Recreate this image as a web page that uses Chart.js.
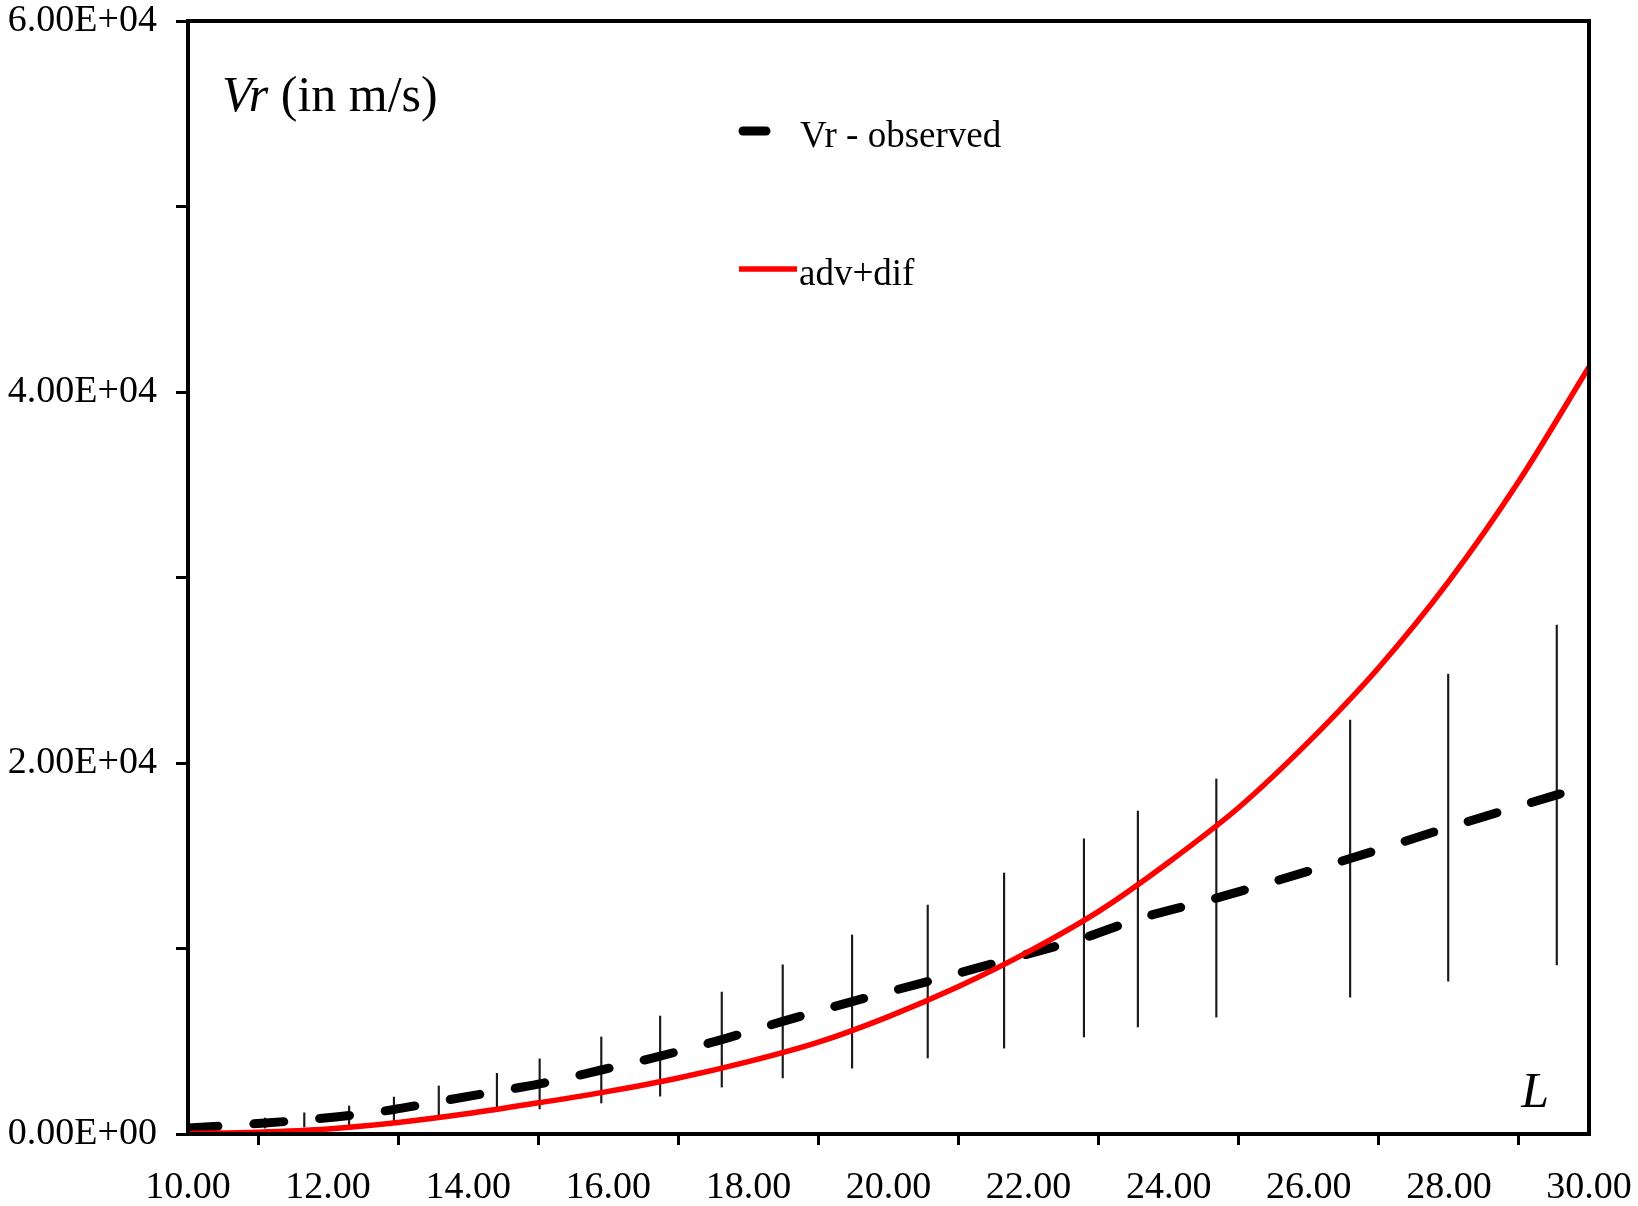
<!DOCTYPE html>
<html>
<head>
<meta charset="utf-8">
<title>Vr observed vs adv+dif</title>
<script src="https://cdn.jsdelivr.net/npm/chart.js@4.4.1/dist/chart.umd.min.js"></script>
<style>
  html, body { margin: 0; padding: 0; background: #fff; }
  #wrap { width: 1638px; height: 1206px; position: relative; }
</style>
</head>
<body>
<div id="wrap"><canvas id="chart"></canvas></div>
<script>
// observed points with their error bars
var obsL   = [11.10, 11.66, 12.30, 12.94, 13.58, 14.41, 15.02, 15.90, 16.74, 17.62, 18.49, 19.48, 20.56, 21.65, 22.79, 23.56, 24.68, 26.59, 27.99, 29.54];
var obsVr  = [590, 760, 1000, 1320, 1750, 2300, 2700, 3450, 4200, 5090, 6070, 7140, 8220, 9350, 10570, 11590, 12720, 14850, 16520, 18280];
var obsErr = [270, 380, 510, 670, 840, 970, 1350, 1780, 2160, 2560, 3050, 3590, 4120, 4720, 5340, 5820, 6420, 7470, 8280, 9160];

// dashed "Vr - observed" curve, runs over the whole L range
var obsCurveL  = [10.00, 11.10, 11.66, 12.30, 12.94, 13.58, 14.41, 15.02, 15.90, 16.74, 17.62, 18.49, 19.48, 20.56, 21.65, 22.79, 23.56, 24.68, 26.59, 27.99, 29.54, 30.00];
var obsCurveVr = [320, 590, 760, 1000, 1320, 1750, 2300, 2700, 3450, 4200, 5090, 6070, 7140, 8220, 9350, 10570, 11590, 12720, 14850, 16520, 18280, 18800];

// red "adv+dif" model curve
var advL  = [10, 11, 12, 13, 14, 15, 16, 17, 18, 19, 20, 21, 22, 23, 24, 25, 26, 27, 28, 29, 30];
var advVr = [30, 100, 270, 620, 1100, 1680, 2300, 3020, 3900, 4950, 6330, 7950, 9830, 12000, 14650, 17600, 21150, 25150, 29800, 35200, 41350];

// only these y ticks get a label
var yLabelValues = [0, 20000, 40000, 60000];
var yLabelTexts  = ['0.00E+00', '2.00E+04', '4.00E+04', '6.00E+04'];

var serif = '"Liberation Serif", "Times New Roman", serif';

function pts(xs, ys) {
    return xs.map(function (x, i) { return { x: x, y: ys[i] }; });
}

// frame, axis name, "L" and the legend are drawn inside the plot
const extras = {
    id: 'extras',
    afterDatasetsDraw(chart) {
        const ctx = chart.ctx;
        const a = chart.chartArea;
        const ds = chart.data.datasets;
        ctx.save();

        ctx.strokeStyle = '#000';
        ctx.lineWidth = 4;
        ctx.strokeRect(a.left, a.top, a.right - a.left, a.bottom - a.top);

        ctx.fillStyle = '#000';
        ctx.textBaseline = 'alphabetic';
        ctx.textAlign = 'left';
        var x = a.left + 34, y = a.top + 90;
        ctx.font = 'italic 50px ' + serif;
        ctx.fillText('Vr', x, y);
        x += ctx.measureText('Vr').width;
        ctx.font = '50px ' + serif;
        ctx.fillText(' (in m/s)', x, y);

        ctx.font = 'italic 50px ' + serif;
        ctx.textAlign = 'right';
        ctx.fillText('L', a.right - 40, a.bottom - 27);

        // legend
        ctx.lineCap = 'round';
        ctx.strokeStyle = ds[1].borderColor;
        ctx.lineWidth = ds[1].borderWidth;
        ctx.beginPath();
        ctx.moveTo(a.left + 555, a.top + 110);
        ctx.lineTo(a.left + 578, a.top + 110);
        ctx.stroke();

        ctx.lineCap = 'butt';
        ctx.strokeStyle = ds[2].borderColor;
        ctx.lineWidth = ds[2].borderWidth;
        ctx.beginPath();
        ctx.moveTo(a.left + 551, a.top + 248);
        ctx.lineTo(a.left + 609, a.top + 248);
        ctx.stroke();

        ctx.font = '37px ' + serif;
        ctx.textAlign = 'left';
        ctx.fillText(ds[1].label, a.left + 612, a.top + 126);
        ctx.fillText(ds[2].label, a.left + 611, a.top + 264);
        ctx.restore();
    }
};

const ctx = document.getElementById('chart').getContext('2d');
const chart = new Chart(ctx, {
    type: 'line',
    data: {
        datasets: [{
            type: 'bar',
            label: 'error',
            data: obsL.map(function (l, i) { return { x: l, y: [obsVr[i] - obsErr[i], obsVr[i] + obsErr[i]] }; }),
            backgroundColor: '#1a1a1a',
            barThickness: 1.5,
            grouped: false,
            order: 3
        }, {
            label: 'Vr - observed',
            data: pts(obsCurveL, obsCurveVr),
            borderColor: '#000',
            borderWidth: 9,
            borderDash: [30, 36],
            borderCapStyle: 'round',
            cubicInterpolationMode: 'monotone',
            pointRadius: 0,
            fill: false,
            order: 2
        }, {
            label: 'adv+dif',
            data: pts(advL, advVr),
            borderColor: '#ff0000',
            borderWidth: 5.5,
            cubicInterpolationMode: 'monotone',
            pointRadius: 0,
            fill: false,
            order: 1
        }]
    },
    options: {
        responsive: true,
        maintainAspectRatio: false,
        animation: false,
        layout: { padding: { top: 21, right: 49, left: 0, bottom: 0 } },
        plugins: {
            legend: { display: false },
            tooltip: { enabled: false }
        },
        scales: {
            x: {
                type: 'linear',
                min: 10,
                max: 30,
                offset: false,
                border: { display: false },
                grid: { drawOnChartArea: false, tickLength: 11, tickWidth: 3, tickColor: '#000' },
                ticks: {
                    stepSize: 2,
                    maxRotation: 0,
                    autoSkip: false,
                    padding: 20,
                    color: '#000',
                    font: { family: serif, size: 38 },
                    callback: function (v) { return v.toFixed(2); }
                },
                afterFit: function (s) {
                    s.height = 72;
                    s.paddingLeft = 0;
                    s.paddingRight = 0;
                }
            },
            y: {
                type: 'linear',
                min: 0,
                max: 60000,
                border: { display: false },
                grid: { drawOnChartArea: false, tickLength: 12, tickWidth: 3, tickColor: '#000' },
                ticks: {
                    stepSize: 10000,
                    autoSkip: false,
                    padding: 19,
                    color: '#000',
                    font: { family: serif, size: 38 },
                    callback: function (v) {
                        var k = yLabelValues.indexOf(v);
                        return k < 0 ? '' : yLabelTexts[k];
                    }
                },
                afterFit: function (s) {
                    s.width = 188;
                    s.paddingTop = 0;
                    s.paddingBottom = 0;
                }
            }
        }
    },
    plugins: [extras]
});
</script>
</body>
</html>
